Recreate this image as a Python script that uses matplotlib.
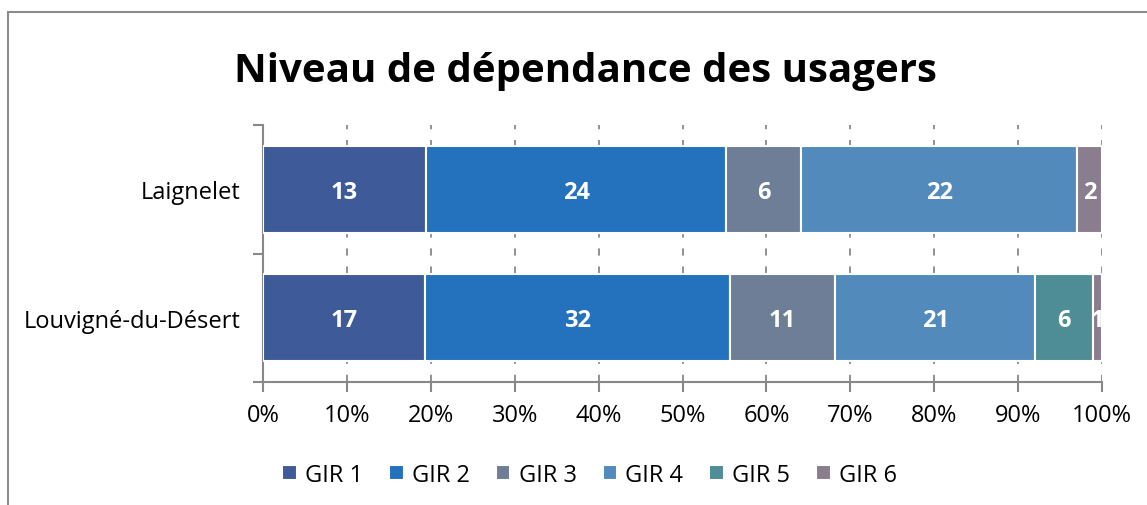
import matplotlib.pyplot as plt
from matplotlib.patches import Rectangle
import numpy as np

# data
sites = ['Laignelet', 'Louvigné-du-Désert']
groups = ['GIR 1', 'GIR 2', 'GIR 3', 'GIR 4', 'GIR 5', 'GIR 6']
laignelet = [13, 24, 6, 22, 0, 2]
louvigne = [17, 32, 11, 21, 6, 1]
colors = ['#3F5A98', '#2471BE', '#6E7E96', '#528ABC', '#4E8D96', '#8A7D8E']

plt.rcParams['font.family'] = ['Open Sans', 'DejaVu Sans']

counts = np.array([laignelet, louvigne], dtype=float)
shares = counts / counts.sum(axis=1, keepdims=True) * 100

fig = plt.figure(figsize=(11.47, 5.06), dpi=100)
ax = fig.add_axes([0.2293, 0.243, 0.7315, 0.508])

# outer chart border
fig.patches.append(Rectangle((8 / 1147, -0.1), 1.2, 1 - 13 / 506 + 0.1,
                             transform=fig.transFigure, fill=False,
                             edgecolor='#8C8C8C', linewidth=1.5))

y = np.arange(len(sites))
left = np.zeros(len(sites))
for i, g in enumerate(groups):
    bars = ax.barh(y, shares[:, i], left=left, height=0.68, color=colors[i],
                   edgecolor='white', linewidth=1.5, label=g, zorder=3)
    for j, b in enumerate(bars):
        if counts[j, i] > 0:
            t = ax.text(left[j] + shares[j, i] / 2, y[j] + 0.02, f'{int(counts[j, i])}',
                        ha='center', va='center', color='white',
                        fontsize=17, fontweight='bold', zorder=4)
            t.set_clip_path(b)
    left += shares[:, i]

ax.set_xlim(0, 100)
ax.set_ylim(1.5, -0.5)
ax.set_xticks(np.arange(0, 101, 10))
ax.set_xticklabels([f'{v}%' for v in range(0, 101, 10)])
ax.set_yticks(y)
ax.set_yticklabels(sites)
ax.set_yticks([-0.5, 0.5, 1.5], minor=True)
ax.tick_params(axis='y', which='major', length=0, pad=16, labelsize=17)
ax.tick_params(axis='y', which='minor', length=7, color='#888888', width=1.5,
               direction='out')
ax.tick_params(axis='x', length=7, color='#888888', width=1.5, labelsize=17,
               pad=8, direction='out')
ax.grid(axis='x', color='#888888', linestyle=(0, (4, 6)), linewidth=1.3, zorder=0)
ax.set_axisbelow(True)
for s in ['top', 'right']:
    ax.spines[s].set_visible(False)
for s in ['left', 'bottom']:
    ax.spines[s].set_color('#888888')
    ax.spines[s].set_linewidth(1.5)

fig.text(0.51, 0.858, 'Niveau de dépendance des usagers', ha='center', va='center',
         fontsize=29, fontweight='bold')

handles, labels = ax.get_legend_handles_labels()
fig.legend(handles, labels, loc='center', bbox_to_anchor=(0.514, 0.06), ncol=6,
           frameon=False, fontsize=17, handlelength=0.62, handleheight=0.62,
           handletextpad=0.35, columnspacing=1.1)

fig.savefig('out.png', dpi=100)
